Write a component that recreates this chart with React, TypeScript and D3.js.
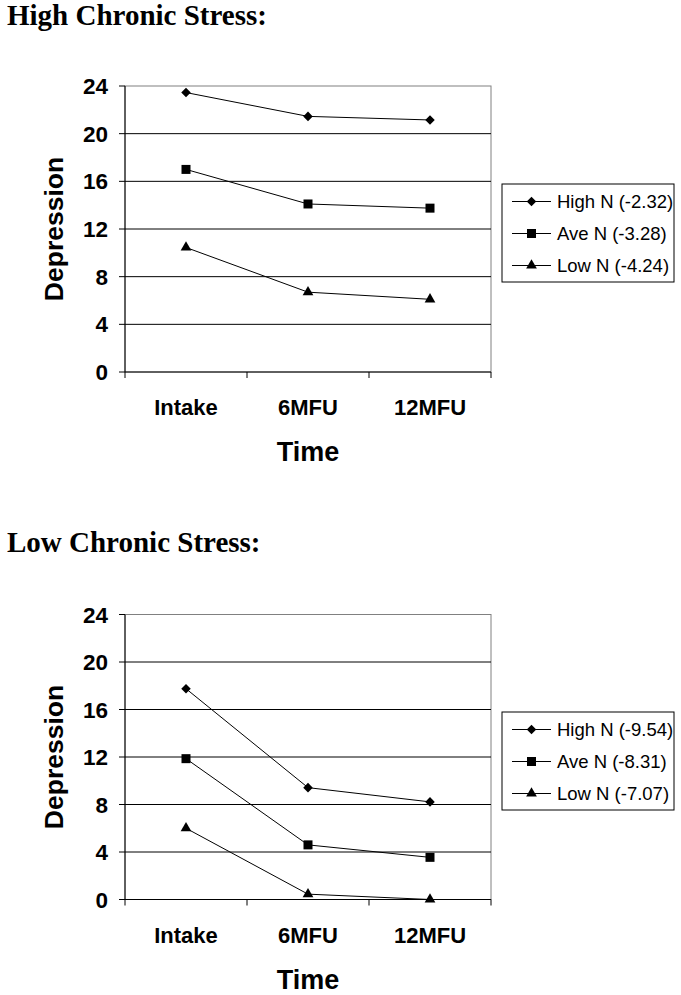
import React from "react";
import * as d3 from "d3";

const categories = ["Intake", "6MFU", "12MFU"];
const yTicks = [0, 4, 8, 12, 16, 20, 24];

const highStressTitle = "High Chronic Stress:";
const highStressHighN = [23.45, 21.45, 21.15];
const highStressAveN = [17.0, 14.1, 13.75];
const highStressLowN = [10.45, 6.7, 6.1];
const highStressLegend = ["High N (-2.32)", "Ave N (-3.28)", "Low N (-4.24)"];

const lowStressTitle = "Low Chronic Stress:";
const lowStressHighN = [17.75, 9.42, 8.22];
const lowStressAveN = [11.86, 4.6, 3.55];
const lowStressLowN = [6.0, 0.45, 0.0];
const lowStressLegend = ["High N (-9.54)", "Ave N (-8.31)", "Low N (-7.07)"];

const symbols = [d3.symbolDiamond2, d3.symbolSquare, d3.symbolTriangle];
const symbolSizes = [58, 81, 50];

type PanelProps = {
  title: string;
  titleY: number;
  top: number;
  bottom: number;
  series: number[][];
  legend: string[];
  legendTop: number;
};

function Panel({ title, titleY, top, bottom, series, legend, legendTop }: PanelProps) {
  const left = 125;
  const right = 491;
  const x = d3.scaleBand<string>().domain(categories).range([left, right]).padding(0);
  const y = d3.scaleLinear().domain([0, 24]).range([bottom, top]);
  const cx = (c: string) => (x(c) as number) + x.bandwidth() / 2;
  const line = d3
    .line<number>()
    .x((_, i) => cx(categories[i]))
    .y((v) => y(v));
  const boundaries = [...categories.map((c) => x(c) as number), right];
  const legendLeft = 502;
  const legendRight = 674;
  const rowH = 32;
  return (
    <g>
      <text x={7} y={titleY} fontFamily="'Liberation Serif', 'Times New Roman', serif" fontWeight="bold" fontSize={29}>
        {title}
      </text>
      <rect x={left} y={top} width={right - left} height={bottom - top} fill="none" stroke="#808080" strokeWidth={1} />
      {yTicks.map((t) =>
        t === 0 || t === 24 ? null : (
          <line key={t} x1={left} x2={right} y1={y(t)} y2={y(t)} stroke="#000" strokeWidth={1} />
        )
      )}
      <line x1={left} x2={left} y1={top} y2={bottom} stroke="#000" strokeWidth={1} />
      {yTicks.map((t) => (
        <g key={"yt" + t}>
          <line x1={left - 6} x2={left} y1={y(t)} y2={y(t)} stroke="#000" />
          <text
            x={108}
            y={y(t)}
            dy="0.36em"
            textAnchor="end"
            fontFamily="'Liberation Sans', Arial, sans-serif"
            fontWeight="bold"
            fontSize={22.5}
          >
            {t}
          </text>
        </g>
      ))}
      <line x1={left} x2={right} y1={bottom} y2={bottom} stroke="#000" strokeWidth={1} />
      {boundaries.map((b, i) => (
        <line key={"xt" + i} x1={b} x2={b} y1={bottom} y2={bottom + 6} stroke="#000" />
      ))}
      {categories.map((c) => (
        <text
          key={c}
          x={cx(c)}
          y={bottom + 43}
          textAnchor="middle"
          fontFamily="'Liberation Sans', Arial, sans-serif"
          fontWeight="bold"
          fontSize={22}
        >
          {c}
        </text>
      ))}
      <text
        x={(left + right) / 2}
        y={bottom + 89}
        textAnchor="middle"
        fontFamily="'Liberation Sans', Arial, sans-serif"
        fontWeight="bold"
        fontSize={27}
      >
        Time
      </text>
      <text
        transform={`translate(62.5, ${(top + bottom) / 2}) rotate(-90)`}
        textAnchor="middle"
        fontFamily="'Liberation Sans', Arial, sans-serif"
        fontWeight="bold"
        fontSize={26.5}
      >
        Depression
      </text>
      {series.map((s, si) => (
        <g key={"s" + si}>
          <path d={line(s) || ""} fill="none" stroke="#000" strokeWidth={1} />
          {s.map((v, i) => (
            <path
              key={i}
              d={d3.symbol().type(symbols[si]).size(symbolSizes[si])() || ""}
              transform={`translate(${cx(categories[i])}, ${y(v)})`}
              fill="#000"
            />
          ))}
        </g>
      ))}
      <rect
        x={legendLeft}
        y={legendTop}
        width={legendRight - legendLeft}
        height={rowH * 3 + 2}
        fill="#fff"
        stroke="#000"
        strokeWidth={1}
      />
      {legend.map((label, i) => {
        const cy = legendTop + 17.5 + i * rowH;
        return (
          <g key={label}>
            <line x1={512} x2={551} y1={cy} y2={cy} stroke="#000" />
            <path
              d={d3.symbol().type(symbols[i]).size(symbolSizes[i])() || ""}
              transform={`translate(531.5, ${cy})`}
              fill="#000"
            />
            <text x={557} y={cy} dy="0.36em" fontFamily="'Liberation Sans', Arial, sans-serif" fontSize={18.5}>
              {label}
            </text>
          </g>
        );
      })}
    </g>
  );
}

export default function App() {
  return (
    <svg
      width={681}
      height={995}
      style={{ position: "absolute", left: 0, top: 0, background: "#fff" }}
    >
      <rect x={0} y={0} width={681} height={995} fill="#fff" />
      <Panel
        title={highStressTitle}
        titleY={25}
        top={86}
        bottom={372}
        series={[highStressHighN, highStressAveN, highStressLowN]}
        legend={highStressLegend}
        legendTop={184}
      />
      <Panel
        title={lowStressTitle}
        titleY={552}
        top={614.5}
        bottom={899.5}
        series={[lowStressHighN, lowStressAveN, lowStressLowN]}
        legend={lowStressLegend}
        legendTop={712}
      />
    </svg>
  );
}
